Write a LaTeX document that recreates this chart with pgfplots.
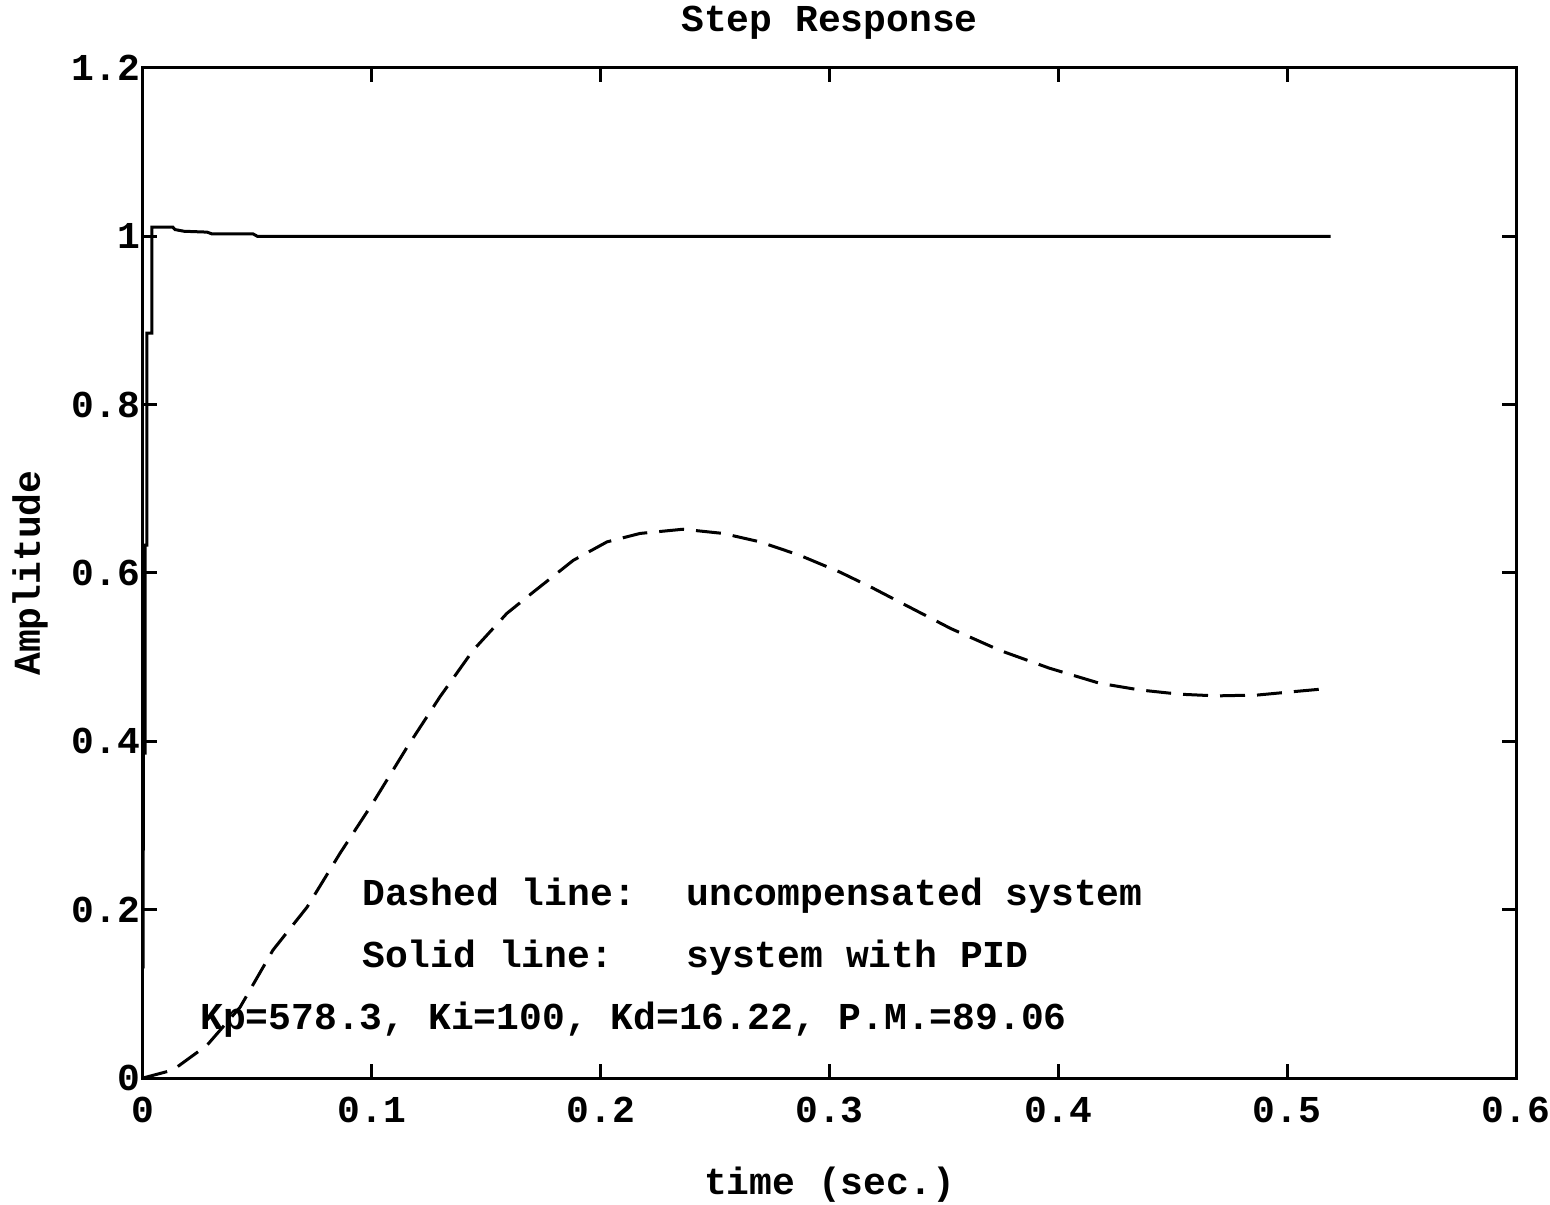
\documentclass[border=0pt]{standalone}
\usepackage{fontspec}
\setmainfont{Liberation Mono}
\usepackage{pgfplots}
\pgfplotsset{compat=1.18}
\newcommand{\chfont}{\bfseries\fontsize{19}{22}\selectfont}
\begin{document}
\begin{tikzpicture}
\useasboundingbox (-71.5pt,-63pt) rectangle (703.5pt,539pt);
\begin{axis}[
  scale only axis,
  width=686.5pt, height=505pt,
  xmin=0, xmax=0.6, ymin=0, ymax=1.2,
  xtick={0,0.1,0.2,0.3,0.4,0.5,0.6},
  ytick={0,0.2,0.4,0.6,0.8,1,1.2},
  xticklabels={0,0.1,0.2,0.3,0.4,0.5,0.6},
  yticklabels={0,0.2,0.4,0.6,0.8,1,1.2},
  tick align=inside,
  major tick length=7pt,
  xtick pos=both, ytick pos=both,
  axis line style={line width=1.5pt},
  every tick/.style={black, line width=1.5pt},
  tick label style={font=\chfont},
  xticklabel style={yshift=-6pt},
  yticklabel style={xshift=2pt},
  label style={font=\chfont},
  xlabel={time (sec.)},
  ylabel={Amplitude},
  xlabel style={at={(axis description cs:0.5,-0.106)}, anchor=center},
  ylabel style={at={(axis description cs:-0.0823,0.5)}, anchor=center},
  clip=false,
]
\addplot[black, line width=1.5pt] coordinates {
(0.0000,0.13) (0.0002,0.386) (0.0009,0.386) (0.0009,0.633) (0.0017,0.633) (0.0017,0.885)
(0.0039,0.885) (0.0039,1.011) (0.0130,1.011) (0.0140,1.008) (0.0180,1.006) (0.0280,1.005)
(0.0300,1.003) (0.0480,1.003) (0.0500,1.000) (0.5190,1.000)
};
\addplot[black, line width=1.5pt, dash pattern=on 12.5pt off 6pt] coordinates {
(0.000,0.000) (0.0131,0.0095) (0.028,0.039) (0.0424,0.084) (0.0568,0.152) (0.0717,0.203)
(0.0861,0.267) (0.1005,0.327) (0.1154,0.393) (0.1298,0.453) (0.1442,0.508) (0.159,0.552)
(0.1704,0.577) (0.188,0.615) (0.2028,0.637) (0.2172,0.647) (0.236,0.652) (0.2535,0.647)
(0.2696,0.637) (0.287,0.621) (0.3046,0.601) (0.319,0.582) (0.331,0.565) (0.353,0.534)
(0.3745,0.508) (0.396,0.487) (0.418,0.469) (0.4357,0.461) (0.453,0.456) (0.469,0.454)
(0.487,0.455) (0.5026,0.459) (0.5187,0.463)
};
\node[font=\chfont, anchor=center] at (axis description cs:0.5,1.0446) {Step Response};
\node[font=\chfont, anchor=base west, inner sep=0pt] at (axis cs:0.0957,0.2055) {Dashed line:};
\node[font=\chfont, anchor=base west, inner sep=0pt] at (axis cs:0.2373,0.2055) {uncompensated system};
\node[font=\chfont, anchor=base west, inner sep=0pt] at (axis cs:0.0957,0.1307) {Solid line:};
\node[font=\chfont, anchor=base west, inner sep=0pt] at (axis cs:0.2373,0.1307) {system with PID};
\node[font=\chfont, anchor=base west, inner sep=0pt] at (axis cs:0.0249,0.0582) {Kp=578.3, Ki=100, Kd=16.22, P.M.=89.06};
\end{axis}
\end{tikzpicture}
\end{document}
